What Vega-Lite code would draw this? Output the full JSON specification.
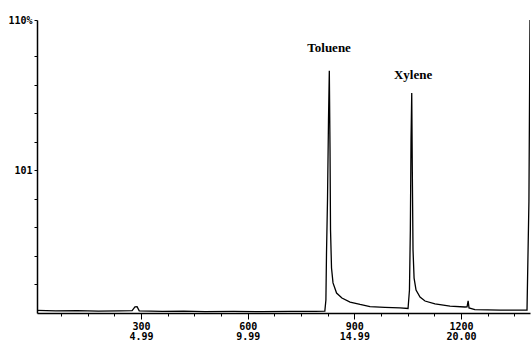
{
  "$schema": "https://vega.github.io/schema/vega-lite/v6.json",
  "width": 493,
  "height": 293,
  "autosize": {"type": "none"},
  "padding": {"left": 37, "top": 20, "right": 2, "bottom": 29},
  "background": "white",
  "config": {"view": {"stroke": null}},
  "datasets": {
    "trace": [
      {"scan": 8, "signal": 1.0},
      {"scan": 60, "signal": 0.8},
      {"scan": 120, "signal": 0.9},
      {"scan": 180, "signal": 0.7},
      {"scan": 240, "signal": 0.8},
      {"scan": 275, "signal": 0.9},
      {"scan": 283, "signal": 2.3},
      {"scan": 289, "signal": 2.4},
      {"scan": 295, "signal": 0.8},
      {"scan": 360, "signal": 0.6},
      {"scan": 420, "signal": 0.7},
      {"scan": 480, "signal": 0.5},
      {"scan": 560, "signal": 0.6},
      {"scan": 640, "signal": 0.5},
      {"scan": 720, "signal": 0.6},
      {"scan": 790, "signal": 0.6},
      {"scan": 817, "signal": 0.7},
      {"scan": 820, "signal": 4.9},
      {"scan": 821.7, "signal": 22.5},
      {"scan": 824.5, "signal": 42.4},
      {"scan": 827.3, "signal": 72.5},
      {"scan": 829.6, "signal": 90.9},
      {"scan": 831.6, "signal": 61.2},
      {"scan": 833, "signal": 31.2},
      {"scan": 835.8, "signal": 16.9},
      {"scan": 840, "signal": 11.3},
      {"scan": 850, "signal": 7.5},
      {"scan": 865, "signal": 5.6},
      {"scan": 888, "signal": 4.1},
      {"scan": 916, "signal": 3.2},
      {"scan": 944, "signal": 2.4},
      {"scan": 986, "signal": 2.1},
      {"scan": 1028, "signal": 1.9},
      {"scan": 1051, "signal": 1.7},
      {"scan": 1055, "signal": 8.6},
      {"scan": 1057.5, "signal": 31.2},
      {"scan": 1059.4, "signal": 65},
      {"scan": 1061.4, "signal": 82.6},
      {"scan": 1063, "signal": 53.7},
      {"scan": 1065, "signal": 23.7},
      {"scan": 1068, "signal": 13.1},
      {"scan": 1073.5, "signal": 8.6},
      {"scan": 1084.7, "signal": 6.0},
      {"scan": 1098.7, "signal": 4.5},
      {"scan": 1126.8, "signal": 3.4},
      {"scan": 1169, "signal": 2.6},
      {"scan": 1211, "signal": 2.25},
      {"scan": 1217, "signal": 2.3},
      {"scan": 1220, "signal": 4.6},
      {"scan": 1222.5, "signal": 1.9},
      {"scan": 1239, "signal": 1.3},
      {"scan": 1310, "signal": 1.1},
      {"scan": 1385.6, "signal": 1.1},
      {"scan": 1391, "signal": 42},
      {"scan": 1394, "signal": 110}
    ],
    "labels": [
      {"scan": 829, "signal": 99.5, "name": "Toluene"},
      {"scan": 1065, "signal": 89.4, "name": "Xylene"}
    ]
  },
  "layer": [
    {
      "data": {"name": "trace"},
      "mark": {"type": "line", "color": "black", "strokeWidth": 1.3, "clip": true},
      "encoding": {
        "x": {
          "field": "scan",
          "type": "quantitative",
          "scale": {"domain": [7.5, 1394], "nice": false, "zero": false},
          "axis": {
            "title": null,
            "grid": false,
            "tickCount": 100,
            "values": [75, 150, 225, 300, 375, 450, 525, 600, 675, 750, 825, 900, 975, 1050, 1125, 1200, 1275, 1350],
            "labelExpr": "datum.value == 300 ? ['300','4.99'] : datum.value == 600 ? ['600','9.99'] : datum.value == 900 ? ['900','14.99'] : datum.value == 1200 ? ['1200','20.00'] : ''",
            "tickSize": {"condition": {"test": "datum.value % 300 === 0", "value": 6}, "value": 3},
            "domainColor": "black",
            "domainWidth": 1.5,
            "tickColor": "black",
            "tickWidth": 1,
            "labelFont": "DejaVu Sans Mono",
            "labelFontWeight": "bold",
            "labelFontSize": 10,
            "labelColor": "black",
            "labelLineHeight": 10,
            "labelPadding": 2,
            "labelOverlap": false,
            "labelFlush": false
          }
        },
        "y": {
          "field": "signal",
          "type": "quantitative",
          "scale": {"domain": [0, 110], "nice": false},
          "axis": {
            "title": null,
            "grid": false,
            "tickCount": 100,
            "values": [10.7, 21.4, 32.1, 42.8, 53.5, 64.2, 74.9, 85.6, 96.3, 110],
            "labelExpr": "datum.value == 110 ? '110%' : datum.value == 53.5 ? '101' : ''",
            "tickSize": 3,
            "domainColor": "black",
            "domainWidth": 1.5,
            "tickColor": "black",
            "labelFont": "DejaVu Sans Mono",
            "labelFontWeight": "bold",
            "labelFontSize": 10,
            "labelColor": "black",
            "labelPadding": 2,
            "labelOverlap": false,
            "labelFlush": false
          }
        }
      }
    },
    {
      "data": {"name": "labels"},
      "mark": {"type": "text", "font": "Liberation Serif", "fontWeight": "bold", "fontSize": 13, "color": "black", "baseline": "middle", "align": "center"},
      "encoding": {
        "x": {"field": "scan", "type": "quantitative"},
        "y": {"field": "signal", "type": "quantitative"},
        "text": {"field": "name"}
      }
    }
  ]
}
